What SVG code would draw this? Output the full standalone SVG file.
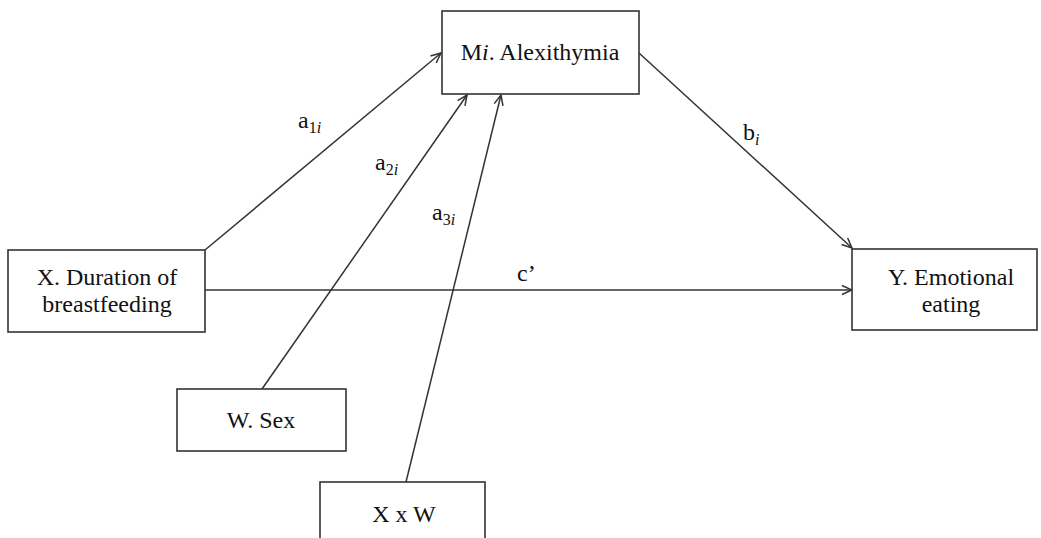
<svg xmlns="http://www.w3.org/2000/svg" width="1041" height="538" viewBox="0 0 1041 538" font-family="Liberation Serif, DejaVu Serif, serif">
<style>
.box{fill:#fff;stroke:#333;stroke-width:1.6}
.t{font-size:24px;fill:#111}
.c{text-anchor:middle}
.sub{font-size:16px}
.ln{stroke:#333;stroke-width:1.5;fill:none;marker-end:url(#ah)}
</style>
<defs>
<marker id="ah" viewBox="0 0 12 12" refX="11" refY="6" markerWidth="12" markerHeight="12" markerUnits="userSpaceOnUse" orient="auto">
<path d="M1,1.5 L11,6 L1,10.5" fill="none" stroke="#333" stroke-width="1.5"/>
</marker>
</defs>
<rect width="1041" height="538" fill="#fff"/>
<g id="connectors">
<line class="ln" x1="205" y1="250" x2="441" y2="53"/>
<line class="ln" x1="262" y1="389" x2="467" y2="95"/>
<line class="ln" x1="406" y1="482" x2="501" y2="95"/>
<line class="ln" x1="639" y1="53" x2="852" y2="248"/>
<line class="ln" x1="205" y1="290" x2="852" y2="290"/>
</g>
<g id="labels">
<text class="t" x="298" y="128">a<tspan class="sub" dy="5">1<tspan font-style="italic">i</tspan></tspan></text>
<text class="t" x="375" y="170">a<tspan class="sub" dy="5">2<tspan font-style="italic">i</tspan></tspan></text>
<text class="t" x="432" y="220">a<tspan class="sub" dy="5">3<tspan font-style="italic">i</tspan></tspan></text>
<text class="t" x="743" y="140">b<tspan class="sub" dy="5" font-style="italic">i</tspan></text>
<text class="t" x="517" y="281">c’</text>
</g>
<g id="nodeM">
<rect class="box" x="442" y="11" width="197" height="83"/>
<text class="t c" x="540" y="60">M<tspan font-style="italic">i</tspan>. Alexithymia</text>
</g>
<g id="nodeX">
<rect class="box" x="8" y="250" width="197" height="82"/>
<text class="t c" x="107" y="285">X. Duration of</text>
<text class="t c" x="107" y="312">breastfeeding</text>
</g>
<g id="nodeY">
<rect class="box" x="852" y="249" width="185" height="81"/>
<text class="t c" x="951" y="285">Y. Emotional</text>
<text class="t c" x="951" y="312">eating</text>
</g>
<g id="nodeW">
<rect class="box" x="177" y="389" width="169" height="62"/>
<text class="t c" x="261" y="428">W. Sex</text>
</g>
<g id="nodeXW">
<rect class="box" x="320" y="482" width="165" height="70"/>
<text class="t c" x="404" y="522">X x W</text>
</g>
</svg>
